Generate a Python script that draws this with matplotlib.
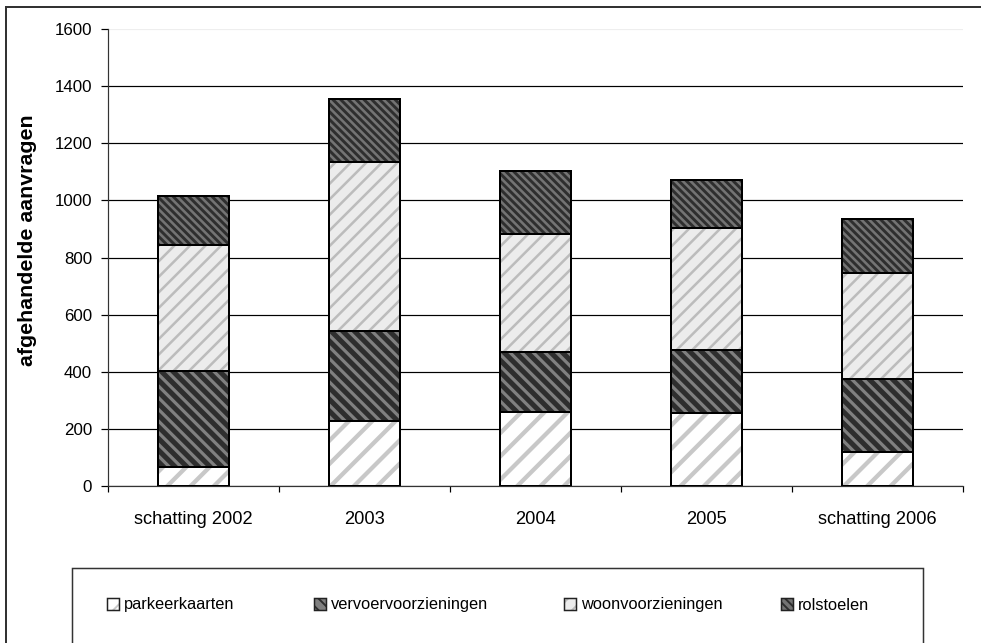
import matplotlib
matplotlib.use("Agg")
import matplotlib.pyplot as plt
from matplotlib.patches import Patch, Rectangle
from matplotlib.legend_handler import HandlerTuple
import numpy as np

plt.rcParams['font.family'] = ['Liberation Sans', 'DejaVu Sans']

# data
categories = ['schatting 2002', '2003', '2004', '2005', 'schatting 2006']
parkeerkaarten = [67, 227, 258, 255, 119]
vervoervoorzieningen = [335, 315, 212, 221, 254]
woonvoorzieningen = [441, 592, 414, 428, 374]
rolstoelen = [173, 221, 219, 167, 187]
series_names = ['parkeerkaarten', 'vervoervoorzieningen', 'woonvoorzieningen', 'rolstoelen']
yticks = [0, 200, 400, 600, 800, 1000, 1200, 1400, 1600]

# face, hatch colour, hatch pattern, hatch linewidth
styles = [
    ('#ffffff', '#c8c8c8', '//', 2.2),
    ('#808080', '#2e2e2e', '\\\\\\\\', 2.6),
    ('#ececec', '#bcbcbc', '///', 1.3),
    ('#737373', '#2e2e2e', '\\\\\\\\\\\\', 1.5),
]

DPI = 140
PX = 72.0 / DPI  # one pixel in points

fig = plt.figure(figsize=(981 / DPI, 643 / DPI), dpi=DPI)
ax = fig.add_axes([108 / 981, 1 - 486 / 643, (963 - 108) / 981, (486 - 29) / 643])

x = np.arange(len(categories))
width = 0.41
bottom = np.zeros(len(categories))
data = [parkeerkaarten, vervoervoorzieningen, woonvoorzieningen, rolstoelen]
handles = []
for vals, (fc, hc, hatch, hlw) in zip(data, styles):
    vals = np.array(vals, dtype=float)
    bars = ax.bar(x, vals, width, bottom=bottom, color=fc, edgecolor=hc,
                  hatch=hatch, linewidth=0, zorder=2)
    for b in bars:
        if hasattr(b, 'set_hatch_linewidth'):
            b.set_hatch_linewidth(hlw)
    ax.bar(x, vals, width, bottom=bottom, fill=False, edgecolor='black',
           linewidth=2 * PX, zorder=3)
    bottom += vals
    hp = Patch(facecolor=fc, edgecolor=hc, hatch=hatch, linewidth=0)
    op = Patch(fill=False, edgecolor='#222222', linewidth=1.5 * PX)
    handles.append((hp, op))

ax.set_xlim(-0.5, len(categories) - 0.5)
ax.set_ylim(0, 1600)
ax.set_yticks(yticks)
ax.set_xticks(x)
ax.set_xticklabels(categories)
ax.set_xticks(np.arange(len(categories) + 1) - 0.5, minor=True)
ax.tick_params(axis='x', which='major', length=0, pad=25 * PX, labelsize=9.4)
ax.tick_params(axis='x', which='minor', length=6 * PX, width=1.2 * PX, direction='out')
ax.tick_params(axis='y', length=7 * PX, width=1.2 * PX, direction='out',
               pad=9 * PX, labelsize=8.7)

ax.set_axisbelow(True)
ax.yaxis.grid(True, color='black', linewidth=1.2 * PX)
gl = ax.yaxis.get_gridlines()
gl[-1].set_color('#eeeeee')
for s in ['top', 'right']:
    ax.spines[s].set_visible(False)
for s in ['left', 'bottom']:
    ax.spines[s].set_linewidth(1.2 * PX)
    ax.spines[s].set_color('#333333')

fig.text(28 / 981, 1 - 240 / 643, 'afgehandelde aanvragen', rotation=90,
         ha='center', va='center', fontsize=11, fontweight='bold')

# outer chart frame (cut off at right and bottom like the original)
fig.add_artist(Rectangle((6 / 981, -0.2), 1.2, 1.2 - 7 / 643,
                         transform=fig.transFigure, fill=False,
                         edgecolor='#333333', linewidth=2 * PX))

# legend box
fig.add_artist(Rectangle((72 / 981, -0.2), (923 - 72) / 981, 0.2 + (643 - 568) / 643,
                         transform=fig.transFigure, fill=False,
                         edgecolor='#333333', linewidth=1.5 * PX))

legend_x = [99, 306, 556, 773]
for hx, h, name in zip(legend_x, handles, series_names):
    fig.legend([h], [name], loc='center left',
               bbox_to_anchor=(hx / 981, 1 - 605 / 643),
               frameon=False, fontsize=8.4, handlelength=0.7,
               handleheight=0.7, handletextpad=0.35, borderpad=0,
               handler_map={tuple: HandlerTuple(ndivide=1, pad=0)})

fig.savefig('out.png', dpi=DPI)
